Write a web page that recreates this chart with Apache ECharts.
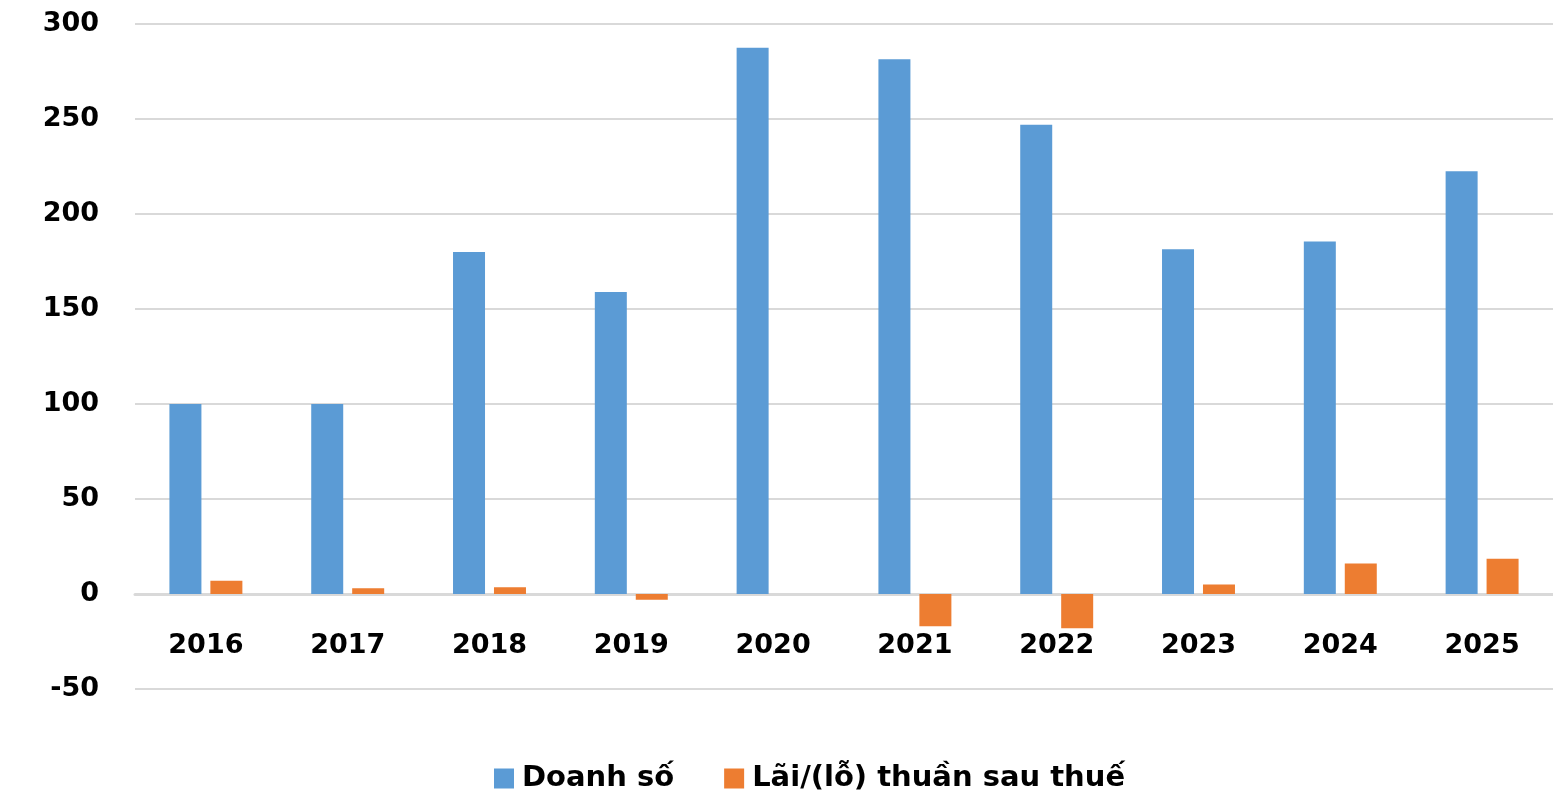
<!DOCTYPE html>
<html>
<head>
<meta charset="utf-8">
<script src="https://cdn.jsdelivr.net/npm/echarts@6/dist/echarts.min.js"></script>
<style>
html,body{margin:0;padding:0;background:#fff;}
#chart{width:1553px;height:796px;}
</style>
</head>
<body>
<div id="chart"></div>
<script>
const categories = ['2016','2017','2018','2019','2020','2021','2022','2023','2024','2025'];
const revenue = [100, 100, 180, 159, 287.5, 281.5, 247, 181.5, 185.5, 222.5];
const netProfit = [7, 3, 3.5, -3, 0, -17, -18, 5, 16, 18.5];
const seriesNames = ['Doanh số', 'Lãi/(lỗ) thuần sau thuế'];
const yTicks = { min: -50, max: 300, interval: 50 };

const font = 'DejaVu Sans';
const chart = echarts.init(document.getElementById('chart'));
chart.setOption({
  animation: false,
  backgroundColor: '#ffffff',
  grid: { left: 135, right: 0, top: 24, bottom: 107 },
  legend: {
    data: seriesNames,
    left: 489,
    top: 759,
    itemWidth: 20,
    itemHeight: 20,
    itemGap: 50,
    icon: 'rect',
    textStyle: { fontFamily: font, fontWeight: 'bold', fontSize: 29, color: '#000', padding: [0, 0, 0, 3] }
  },
  xAxis: {
    type: 'category',
    data: categories,
    axisLine: { onZero: true, lineStyle: { color: '#d9d9d9', width: 3 } },
    axisTick: { show: false },
    axisLabel: { margin: -57, fontFamily: font, fontWeight: 'bold', fontSize: 27, color: '#000' }
  },
  yAxis: {
    type: 'value',
    min: yTicks.min, max: yTicks.max, interval: yTicks.interval,
    axisLine: { show: false },
    axisTick: { show: false },
    splitLine: { lineStyle: { color: '#d9d9d9', width: 2 } },
    axisLabel: { margin: 36, fontFamily: font, fontWeight: 'bold', fontSize: 27, color: '#000' }
  },
  series: [
    { name: seriesNames[0], type: 'bar', data: revenue, barWidth: 32, barGap: '28%',
      itemStyle: { color: '#5B9BD5' } },
    { name: seriesNames[1], type: 'bar', data: netProfit, barWidth: 32,
      itemStyle: { color: '#ED7D31' } }
  ]
});
</script>
</body>
</html>
